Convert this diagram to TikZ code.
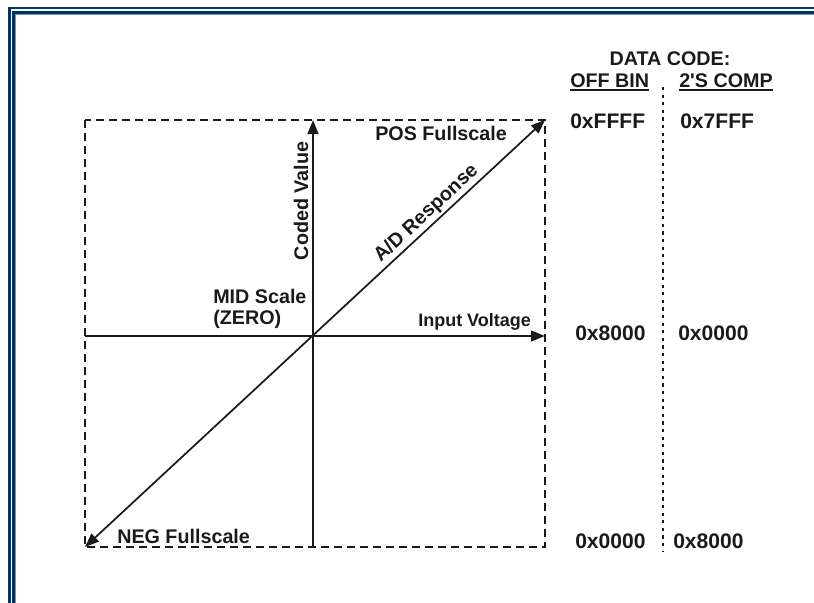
\documentclass[tikz,border=0pt]{standalone}
\usepackage{fontspec}
\setmainfont{Liberation Sans}
\usetikzlibrary{arrows.meta}
\definecolor{framedark}{RGB}{0,51,102}
\definecolor{framegray}{RGB}{128,140,160}
\definecolor{inkgray}{RGB}{26,26,26}
\begin{document}
\begin{tikzpicture}[x=0.75pt,y=-0.75pt,
  lbl/.style={font=\fontsize{14.8}{17}\selectfont\bfseries, text=inkgray, inner sep=0pt},
  smalllbl/.style={font=\fontsize{13.5}{16}\selectfont\bfseries, text=inkgray, inner sep=0pt},
  hexval/.style={font=\fontsize{15.8}{18}\selectfont\bfseries, text=inkgray, inner sep=0pt, anchor=base west},
  axisline/.style={line width=1.8pt, draw=inkgray, -{Triangle[length=10.5pt,width=8pt]}},
  diagline/.style={line width=1.3pt, draw=inkgray, {Triangle[length=10.5pt,width=8pt]}-{Triangle[length=10.5pt,width=8pt]}},
  dashbox/.style={line width=1.4pt, draw=inkgray, dash pattern=on 6pt off 3.75pt},
  sepline/.style={line width=1.6pt, draw=inkgray, dash pattern=on 2.4pt off 3.3pt},
  uline/.style={line width=1.3pt, draw=inkgray},
  frameline/.style={line width=1.9pt, draw=framedark}
]
\useasboundingbox (0,0) rectangle (814,603);

% page frame (left and top edges)
\draw[frameline] (9.5,603) -- (9.5,8) -- (814,8);
\draw[frameline] (13.5,603) -- (13.5,12.5) -- (814,12.5);
\draw[line width=0.75pt, framegray] (15.4,603) -- (15.4,14.4) -- (814,14.4);

% full-scale window
\coordinate (boxtl) at (85,120);
\coordinate (boxbr) at (545,547);
\draw[dashbox] (boxtl) rectangle (boxbr);

% axes
\coordinate (vbot) at (313,547);
\coordinate (vtop) at (313,120);
\coordinate (hleft) at (85,336);
\coordinate (hright) at (545,336);
\draw[axisline] (vbot) -- (vtop);
\draw[axisline] (hleft) -- (hright);

% transfer function
\coordinate (negfs) at (85,547);
\coordinate (posfs) at (545,120);
\draw[diagline] (negfs) -- (posfs)
  node[lbl, pos=0.76, sloped, above=1.5pt] (adresp) {A/D Response};

% axis and point labels
\node[lbl, rotate=90] (coded) at (301,201) {Coded Value};
\node[lbl, anchor=base west] (poslbl) at (375,140) {POS Fullscale};
\node[smalllbl, anchor=base west] (inputv) at (418,326) {Input Voltage};
\node[lbl, anchor=base west] (midlbl) at (213,303) {MID Scale};
\node[lbl, anchor=base west] (zerolbl) at (213,324) {(ZERO)};
\node[lbl, anchor=base west] (neglbl) at (117,543) {NEG Fullscale};

% data code table
\node[lbl, anchor=base] (datacode) at (670,65) {DATA CODE:};
\node[lbl, anchor=base west] (offbin) at (570,87) {OFF BIN};
\node[lbl, anchor=base west] (twoscomp) at (679,87) {2\textquotesingle S COMP};
\draw[uline] ([yshift=-2.5pt]offbin.base west) -- ([yshift=-2.5pt]offbin.base east);
\draw[uline] ([yshift=-2.5pt]twoscomp.base west) -- ([yshift=-2.5pt]twoscomp.base east);
\coordinate (septop) at (663,87);
\coordinate (sepbot) at (663,552);
\draw[sepline] (septop) -- (sepbot);

\node[hexval] (obtop) at (570,128) {0xFFFF};
\node[hexval] (tctop) at (680,128) {0x7FFF};
\node[hexval] (obmid) at (575,340) {0x8000};
\node[hexval] (tcmid) at (678,340) {0x0000};
\node[hexval] (obbot) at (575,548) {0x0000};
\node[hexval] (tcbot) at (673,548) {0x8000};
\end{tikzpicture}
\end{document}
